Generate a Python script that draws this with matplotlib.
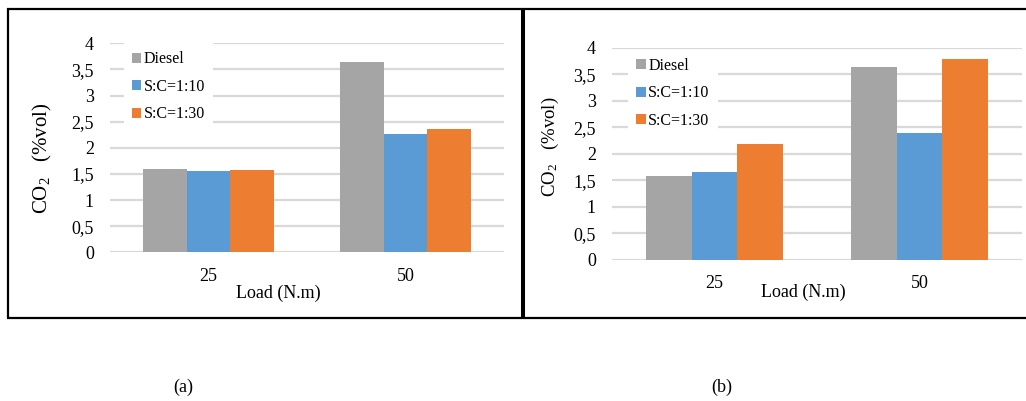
import matplotlib
matplotlib.use("Agg")
import matplotlib.pyplot as plt
from matplotlib.lines import Line2D
import numpy as np

plt.rcParams['font.family'] = ['Liberation Serif', 'DejaVu Serif']
plt.rcParams['mathtext.fontset'] = 'custom'
plt.rcParams['mathtext.rm'] = 'Liberation Serif'
plt.rcParams['mathtext.it'] = 'Liberation Serif:italic'

# Data
loads = ["25", "50"]
series_names = ["Diesel", "S:C=1:10", "S:C=1:30"]
co2_a_diesel = [1.59, 3.65]
co2_a_sc10 = [1.56, 2.26]
co2_a_sc30 = [1.575, 2.36]
co2_b_diesel = [1.585, 3.64]
co2_b_sc10 = [1.65, 2.40]
co2_b_sc30 = [2.18, 3.78]
y_ticks = [0, 0.5, 1, 1.5, 2, 2.5, 3, 3.5, 4]
y_tick_labels = ["0", "0,5", "1", "1,5", "2", "2,5", "3", "3,5", "4"]

colors = ["#a5a5a5", "#5b9bd5", "#ed7d31"]

W, H = 1026, 401
fig = plt.figure(figsize=(W / 100, H / 100), dpi=100)


def px_axes(x0, y0, x1, y1):
    return fig.add_axes([x0 / W, 1 - y1 / H, (x1 - x0) / W, (y1 - y0) / H])


def draw_panel(ax, series, legend_anchor):
    x = np.arange(len(loads))
    bw = 0.2217
    for i, (vals, name, col) in enumerate(zip(series, series_names, colors)):
        ax.bar(x + (i - 1) * bw, vals, bw, color=col, label=name, zorder=3)
    ax.set_xlim(-0.5, 1.5)
    ax.set_ylim(0, 4)
    ax.set_yticks(y_ticks)
    ax.set_yticklabels(y_tick_labels)
    ax.set_xticks(x)
    ax.set_xticklabels(loads)
    ax.tick_params(axis='both', length=0, labelsize=13)
    ax.tick_params(axis='y', pad=11.5)
    ax.tick_params(axis='x', pad=11)
    ax.grid(axis='y', color='#d9d9d9', linewidth=1.6, zorder=0)
    ax.set_axisbelow(True)
    for s in ax.spines.values():
        s.set_visible(False)
    leg = ax.legend(loc='upper left', bbox_to_anchor=legend_anchor,
                    fontsize=11.5, frameon=True, fancybox=False,
                    handlelength=0.6, handleheight=0.6, handletextpad=0.15,
                    labelspacing=0.72, borderpad=0.5, borderaxespad=0)
    leg.get_frame().set_facecolor('white')
    leg.get_frame().set_edgecolor('none')
    leg.get_frame().set_alpha(1)


ax_a = px_axes(110, 43.3, 504, 252.3)
draw_panel(ax_a, [co2_a_diesel, co2_a_sc10, co2_a_sc30], (0.035, 1.0))

ax_b = px_axes(612, 47.7, 1022, 259.7)
draw_panel(ax_b, [co2_b_diesel, co2_b_sc10, co2_b_sc30], (0.04, 0.99))

ylabel = "CO$_2$   (%vol)"
fig.text(42 / W, 1 - 158 / H, ylabel, rotation=90, ha='center', va='center', fontsize=15)
fig.text(550 / W, 1 - 147 / H, ylabel, rotation=90, ha='center', va='center', fontsize=13.5)
fig.text(278 / W, 1 - 293 / H, "Load (N.m)", ha='center', va='center', fontsize=13)
fig.text(803 / W, 1 - 292 / H, "Load (N.m)", ha='center', va='center', fontsize=13)

fig.text(183 / W, 1 - 387 / H, "(a)", ha='center', va='center', fontsize=13)
fig.text(722 / W, 1 - 387 / H, "(b)", ha='center', va='center', fontsize=13)

# Frame around the two panels
def fig_line(xs, ys, lw):
    fig.add_artist(Line2D([v / W for v in xs], [1 - v / H for v in ys],
                          color='black', linewidth=lw, solid_capstyle='butt'))

fig_line([7, 1026], [9, 9], 1.6)
fig_line([7, 1026], [317.5, 317.5], 1.6)
fig_line([8, 8], [8.2, 318.3], 1.6)
fig_line([523, 523], [8.2, 318.3], 2.9)

fig.savefig("out.png", dpi=100)
